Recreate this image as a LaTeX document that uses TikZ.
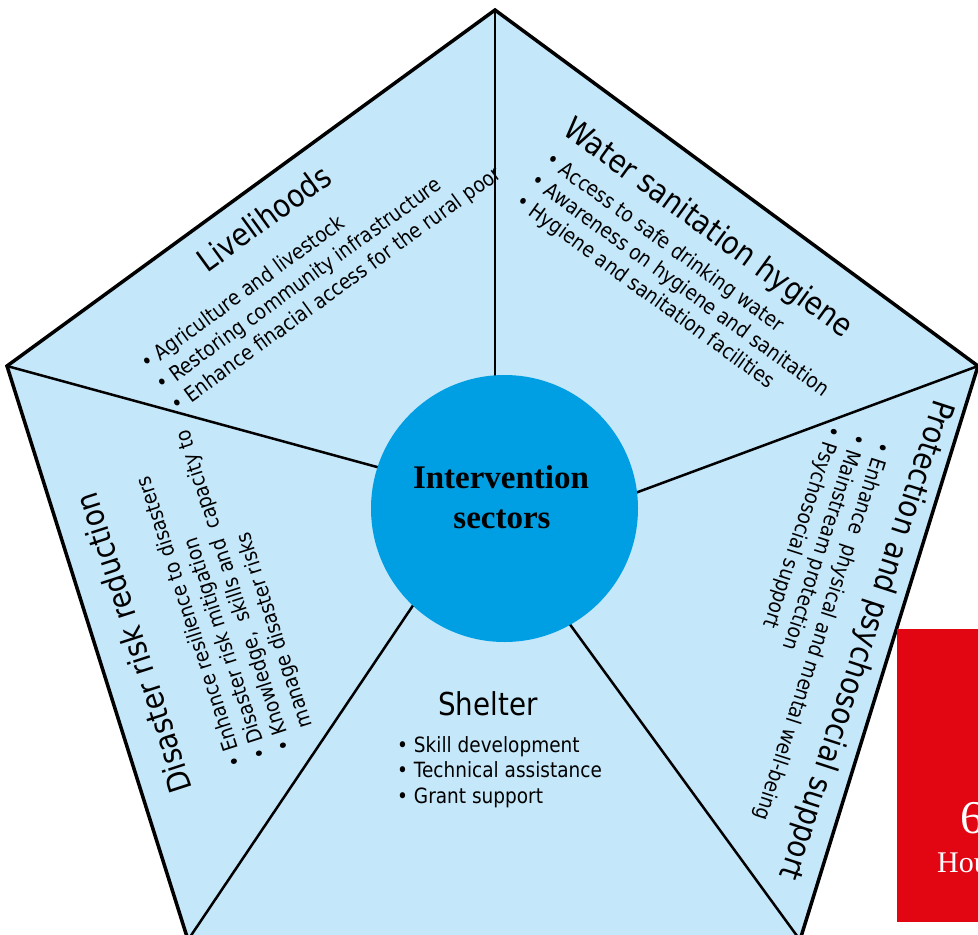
\documentclass[tikz,border=0pt]{standalone}
\usepackage{fontspec}
\setmainfont{DejaVu Sans}[FakeStretch=0.88]
\newfontfamily\hubfont{Liberation Serif}
\definecolor{penta}{HTML}{C5E7FA}
\definecolor{hubblue}{HTML}{009FE3}
\definecolor{redbox}{HTML}{E20613}
\begin{document}
\begin{tikzpicture}[x=1pt,y=-1pt,
  sectitle/.style={font=\fontsize{31.5}{36}\selectfont, anchor=base west, inner sep=0pt},
  item/.style={font=\fontsize{21}{25.7}\selectfont, anchor=base west, inner sep=0pt},
  spoke/.style={line width=2.5pt},
  border/.style={line width=3.5pt, line join=miter},
  hubtext/.style={font=\hubfont\bfseries\fontsize{33}{40}\selectfont, anchor=base, inner sep=0pt},
  redtext/.style={text=white, anchor=base west, inner sep=0pt}]
\useasboundingbox (0,0) rectangle (978,935);
\clip (0,0) rectangle (978,935);
% pentagon vertices
\coordinate (T) at (495,10);
\coordinate (R) at (978,366);
\coordinate (BR) at (800,940);
\coordinate (BL) at (188,940);
\coordinate (L) at (7,366);
% spoke ends inside the hub
\coordinate (sT) at (495,392);
\coordinate (sL) at (389.5,470.4);
\coordinate (sR) at (625.8,496.5);
\coordinate (sBL) at (419.2,596.2);
\coordinate (sBR) at (563.4,615.4);
\fill[penta] (T) -- (R) -- (BR) -- (BL) -- (L) -- cycle;
\draw[spoke] (T) -- (sT);
\draw[spoke] (L) -- (sL);
\draw[spoke] (R) -- (sR);
\draw[spoke] (BL) -- (sBL);
\draw[spoke] (BR) -- (sBR);
\draw[border] (T) -- (R) -- (BR) -- (BL) -- (L) -- cycle;
% hub
\node[circle, fill=hubblue, minimum size=267pt, inner sep=0pt] (hub) at (504.5,508.5) {};
\node[hubtext] (hub1) at (501,488) {Intervention};
\node[hubtext] (hub2) at (502,528) {sectors};
% Livelihoods
\begin{scope}[shift={(147,371)}, rotate=36, transform shape]
  \node[sectitle] (livT) at (106.6,-43.3) {Livelihoods};
  \node[item] (liv1) at (0,0) {\textbullet\ Agriculture and livestock};
  \node[item] (liv2) at (0,26) {\textbullet\ Restoring community infrastructure};
  \node[item] (liv3) at (0,52) {\textbullet\ Enhance finacial access for the rural poor};
\end{scope}
% Water sanitation hygiene
\begin{scope}[shift={(544.1,162.8)}, rotate=-36, transform shape]
  \node[sectitle] (watT) at (-3,-34) {Water sanitation hygiene};
  \node[item] (wat1) at (0,0) {\textbullet\ Access to safe drinking water};
  \node[item] (wat2) at (0,25.7) {\textbullet\ Awareness on hygiene and sanitation};
  \node[item] (wat3) at (0,51.4) {\textbullet\ Hygiene and sanitation facilities};
\end{scope}
% Protection and psychosocial support
\begin{scope}[shift={(877.6,440.5)}, rotate=-108, transform shape]
  \node[sectitle] (proT) at (-58,-41.4) {Protection and psychosocial support};
  \node[item] (pro1) at (0,0) {\textbullet\ Enhance\ \ physical and mental well-being};
  \node[item] (pro2) at (0,25.7) {\textbullet\ Mainstream protection};
  \node[item] (pro3) at (0,51.4) {\textbullet\ Psychosocial support};
\end{scope}
% Disaster risk reduction
\begin{scope}[shift={(244,765)}, rotate=108, transform shape]
  \node[sectitle] (disT) at (-6.7,-55.9) {Disaster risk reduction};
  \node[item] (dis1) at (0,0) {\textbullet\ Enhance resilience to disasters};
  \node[item] (dis2) at (0,25.7) {\textbullet\ Disaster risk mitigation};
  \node[item] (dis3) at (0,51.4) {\textbullet\ Knowledge,\ \ skills and\ \ capacity to};
  \node[item] (dis4) at (0,77.1) {\phantom{\textbullet\ }manage disaster risks};
\end{scope}
% Shelter
\node[sectitle] (shT) at (438,715) {Shelter};
\node[item] (sh1) at (397,752) {\textbullet\ Skill development};
\node[item] (sh2) at (397,777.5) {\textbullet\ Technical assistance};
\node[item] (sh3) at (397,803) {\textbullet\ Grant support};
% red page tab
\fill[redbox] (897,629) rectangle (990,922);
\node[redtext, font=\hubfont\fontsize{47}{50}\selectfont] (pg) at (960,833) {6};
\node[redtext, font=\hubfont\fontsize{30}{34}\selectfont] (pgt) at (937,872) {Hou};
\end{tikzpicture}
\end{document}
